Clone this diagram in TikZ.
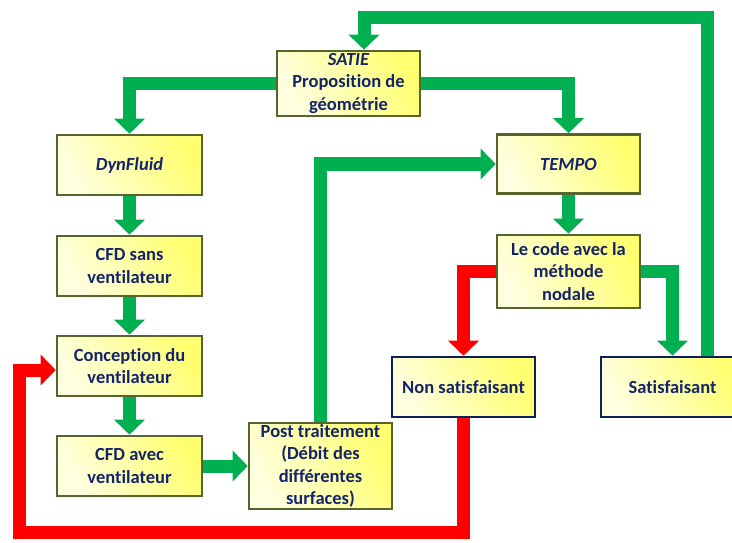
\documentclass[tikz,border=0pt]{standalone}
\usepackage{fontspec}
\setmainfont[Ligatures=NoCommon]{Carlito}
\usetikzlibrary{arrows.meta,calc}
\definecolor{grn}{HTML}{00B050}
\definecolor{rd}{HTML}{FF0000}
\definecolor{olv}{HTML}{56652E}
\definecolor{nvy}{HTML}{0A1F5C}
\definecolor{txt}{HTML}{14246B}
\definecolor{ylA}{HTML}{FFFF70}
\definecolor{ylB}{HTML}{FFFFE0}
\begin{document}
\begin{tikzpicture}[x=1pt,y=-1pt,
  box/.style={draw=olv, line width=2.6pt, left color=ylA, right color=ylB, shading angle=-60,
    font=\bfseries\fontsize{18.5}{22.5}\selectfont, text=txt, align=center, inner sep=0pt,
    minimum width=143pt},
  nbox/.style={box, draw=nvy},
  garrow/.style={draw=grn, line width=13pt, line join=miter, -{Triangle[length=15pt,width=30pt]}},
  rarrow/.style={draw=rd, line width=13pt, line join=miter, -{Triangle[length=15pt,width=30pt]}}]
\useasboundingbox (0,0) rectangle (732,543);
% boxes
\node[box, minimum height=65pt] (satie) at (348.5,83.5) {{\itshape SATIE}\\Proposition de\\géométrie};
\node[box, minimum width=145pt, minimum height=60pt] (dyn) at (129.5,165) {\itshape DynFluid};
\node[box, minimum width=145pt, minimum height=60pt] (cfds) at (129.5,266) {CFD sans\\ventilateur};
\node[box, minimum width=145pt, minimum height=60pt] (conc) at (129.5,366) {Conception du\\ventilateur};
\node[box, minimum width=145pt, minimum height=60pt] (cfda) at (129.5,466) {CFD avec\\ventilateur};
\node[box, minimum height=86pt] (post) at (320.5,466) {Post traitement\\(Débit des\\différentes\\surfaces)};
\node[box, minimum height=59pt] (tempo) at (568.5,164) {\itshape TEMPO};
\node[box, minimum height=73pt] (code) at (568.5,271.5) {Le code avec la\\méthode\\nodale};
\node[nbox, minimum height=60pt] (ns) at (463.5,387) {Non satisfaisant};
\node[nbox, minimum height=60pt] (sat) at (672.5,387) {Satisfaisant};
% helper coordinates
\coordinate (top) at (0,18);
\coordinate (bot) at (0,532);
\coordinate (lft) at (19,0);
% green arrows
\draw[garrow] (satie.west) -| (dyn.north);
\draw[garrow] (satie.east) -| (tempo.north);
\draw[garrow] (dyn.south) -- (cfds.north);
\draw[garrow] (cfds.south) -- (conc.north);
\draw[garrow] (conc.south) -- (cfda.north);
\draw[garrow] (cfda.east) -- (post.west);
\draw[garrow] (post.north) |- (tempo.west);
\draw[garrow] (tempo.south) -- (code.north);
\draw[garrow] (code.east) -| (sat.north);
\draw[garrow] ([xshift=34.5pt]sat.north) -- ([xshift=34.5pt]sat.north |- top) -| ([xshift=15.5pt]satie.north);
% red arrows
\draw[rarrow] (code.west) -| (ns.north);
\draw[rarrow] (ns.south) -- (ns.south |- bot) -- (lft |- bot) |- ([yshift=-4pt]conc.west);
\end{tikzpicture}
\end{document}
